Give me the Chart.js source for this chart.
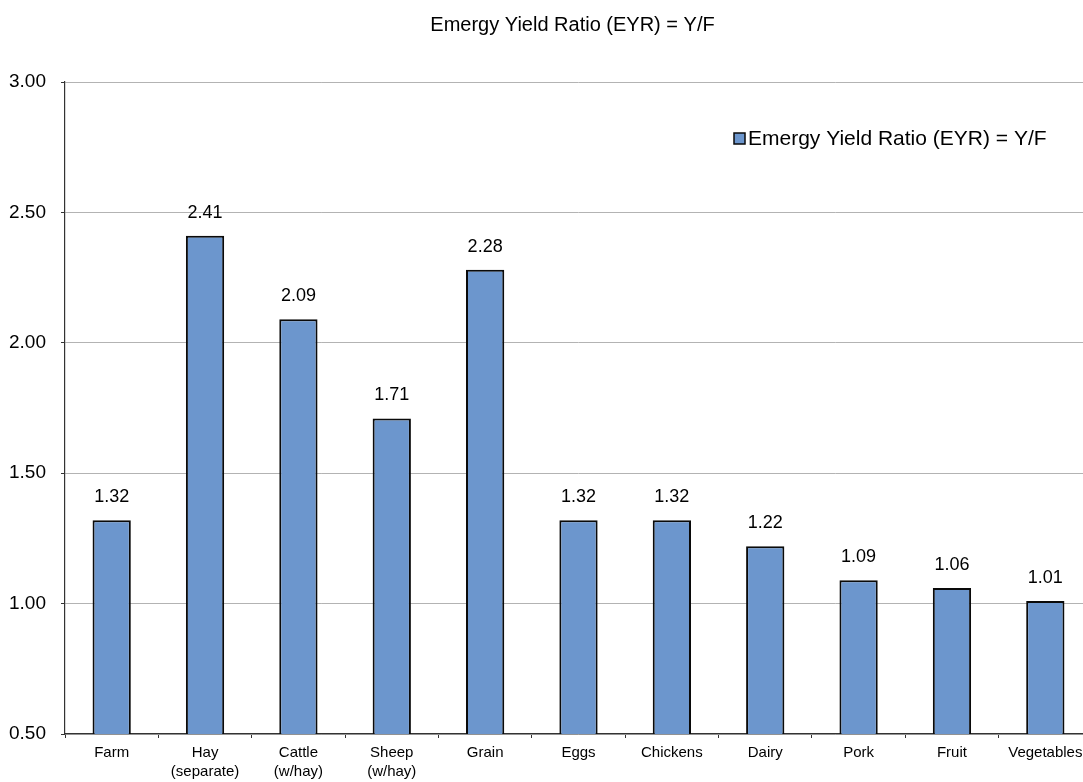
<!DOCTYPE html>
<html>
<head>
<meta charset="utf-8">
<script src="https://cdn.jsdelivr.net/npm/chart.js@4/dist/chart.umd.min.js"></script>
<style>
  html, body { margin: 0; padding: 0; background: #fff; overflow: hidden; }
  #wrap { position: relative; width: 1092px; height: 782px; }
</style>
</head>
<body>
<div id="wrap"><canvas id="chart"></canvas></div>
<script>
const categories = ['Farm', ['Hay', '(separate)'], ['Cattle', '(w/hay)'], ['Sheep', '(w/hay)'], 'Grain', 'Eggs', 'Chickens', 'Dairy', 'Pork', 'Fruit', 'Vegetables'];
const eyrValues = [1.32, 2.41, 2.09, 1.71, 2.28, 1.32, 1.32, 1.22, 1.09, 1.06, 1.01];
const seriesName = 'Emergy Yield Ratio (EYR) = Y/F';
const chartTitle = 'Emergy Yield Ratio (EYR) = Y/F';

const FONT = '"Liberation Sans", Arial, Helvetica, sans-serif';
const barFill = '#6c96cd';
const barEdge = '#0a0a0a';

// value labels above the bars, title and in-plot legend
const extras = {
    id: 'extras',
    afterDatasetsDraw(chart) {
        const ctx = chart.ctx;
        const area = chart.chartArea;
        ctx.save();
        ctx.fillStyle = '#000';

        ctx.font = '18px ' + FONT;
        ctx.textAlign = 'center';
        ctx.textBaseline = 'alphabetic';
        chart.getDatasetMeta(0).data.forEach((bar, i) => {
            ctx.fillText(eyrValues[i].toFixed(2), bar.x, bar.y - 18);
        });

        ctx.font = '20px ' + FONT;
        ctx.fillText(chartTitle, (area.left + area.right) / 2 - 6, 31);

        // legend
        const lx = area.right - 358, ly = 133;
        ctx.fillStyle = barFill;
        ctx.fillRect(lx, ly, 11, 11);
        ctx.strokeStyle = barEdge;
        ctx.lineWidth = 1.5;
        ctx.strokeRect(lx, ly, 11, 11);
        ctx.fillStyle = '#000';
        ctx.font = '21px ' + FONT;
        ctx.textAlign = 'left';
        ctx.fillText(seriesName, lx + 14, 145);
        ctx.restore();
    }
};

new Chart(document.getElementById('chart'), {
    type: 'bar',
    data: {
        labels: categories,
        datasets: [{
            label: seriesName,
            data: eyrValues,
            backgroundColor: barFill,
            borderColor: barEdge,
            borderWidth: 2,
            barPercentage: 0.41,
            categoryPercentage: 1
        }]
    },
    options: {
        responsive: true,
        maintainAspectRatio: false,
        animation: false,
        layout: { padding: { top: 82, right: 0, left: 0, bottom: 0 } },
        plugins: {
            legend: { display: false },
            title: { display: false },
            tooltip: { enabled: false }
        },
        scales: {
            x: {
                offset: true,
                grid: { offset: true, drawOnChartArea: false, tickColor: '#333', tickLength: 4 },
                border: { color: '#333', width: 1.2 },
                ticks: { color: '#000', padding: 5, maxRotation: 0, autoSkip: false, font: { family: FONT, size: 15, lineHeight: 1.27 } },
                afterFit(scale) { scale.height = 48; }
            },
            y: {
                min: 0.5,
                max: 3,
                grid: { color: '#b3b3b3', lineWidth: 1, tickColor: '#333', tickLength: 4 },
                border: { color: '#333', width: 1.2 },
                ticks: {
                    stepSize: 0.5,
                    color: '#000',
                    padding: 15,
                    font: { family: FONT, size: 19 },
                    callback: v => v.toFixed(2)
                },
                afterFit(scale) { scale.width = 65; }
            }
        }
    },
    plugins: [extras]
});
</script>
</body>
</html>
